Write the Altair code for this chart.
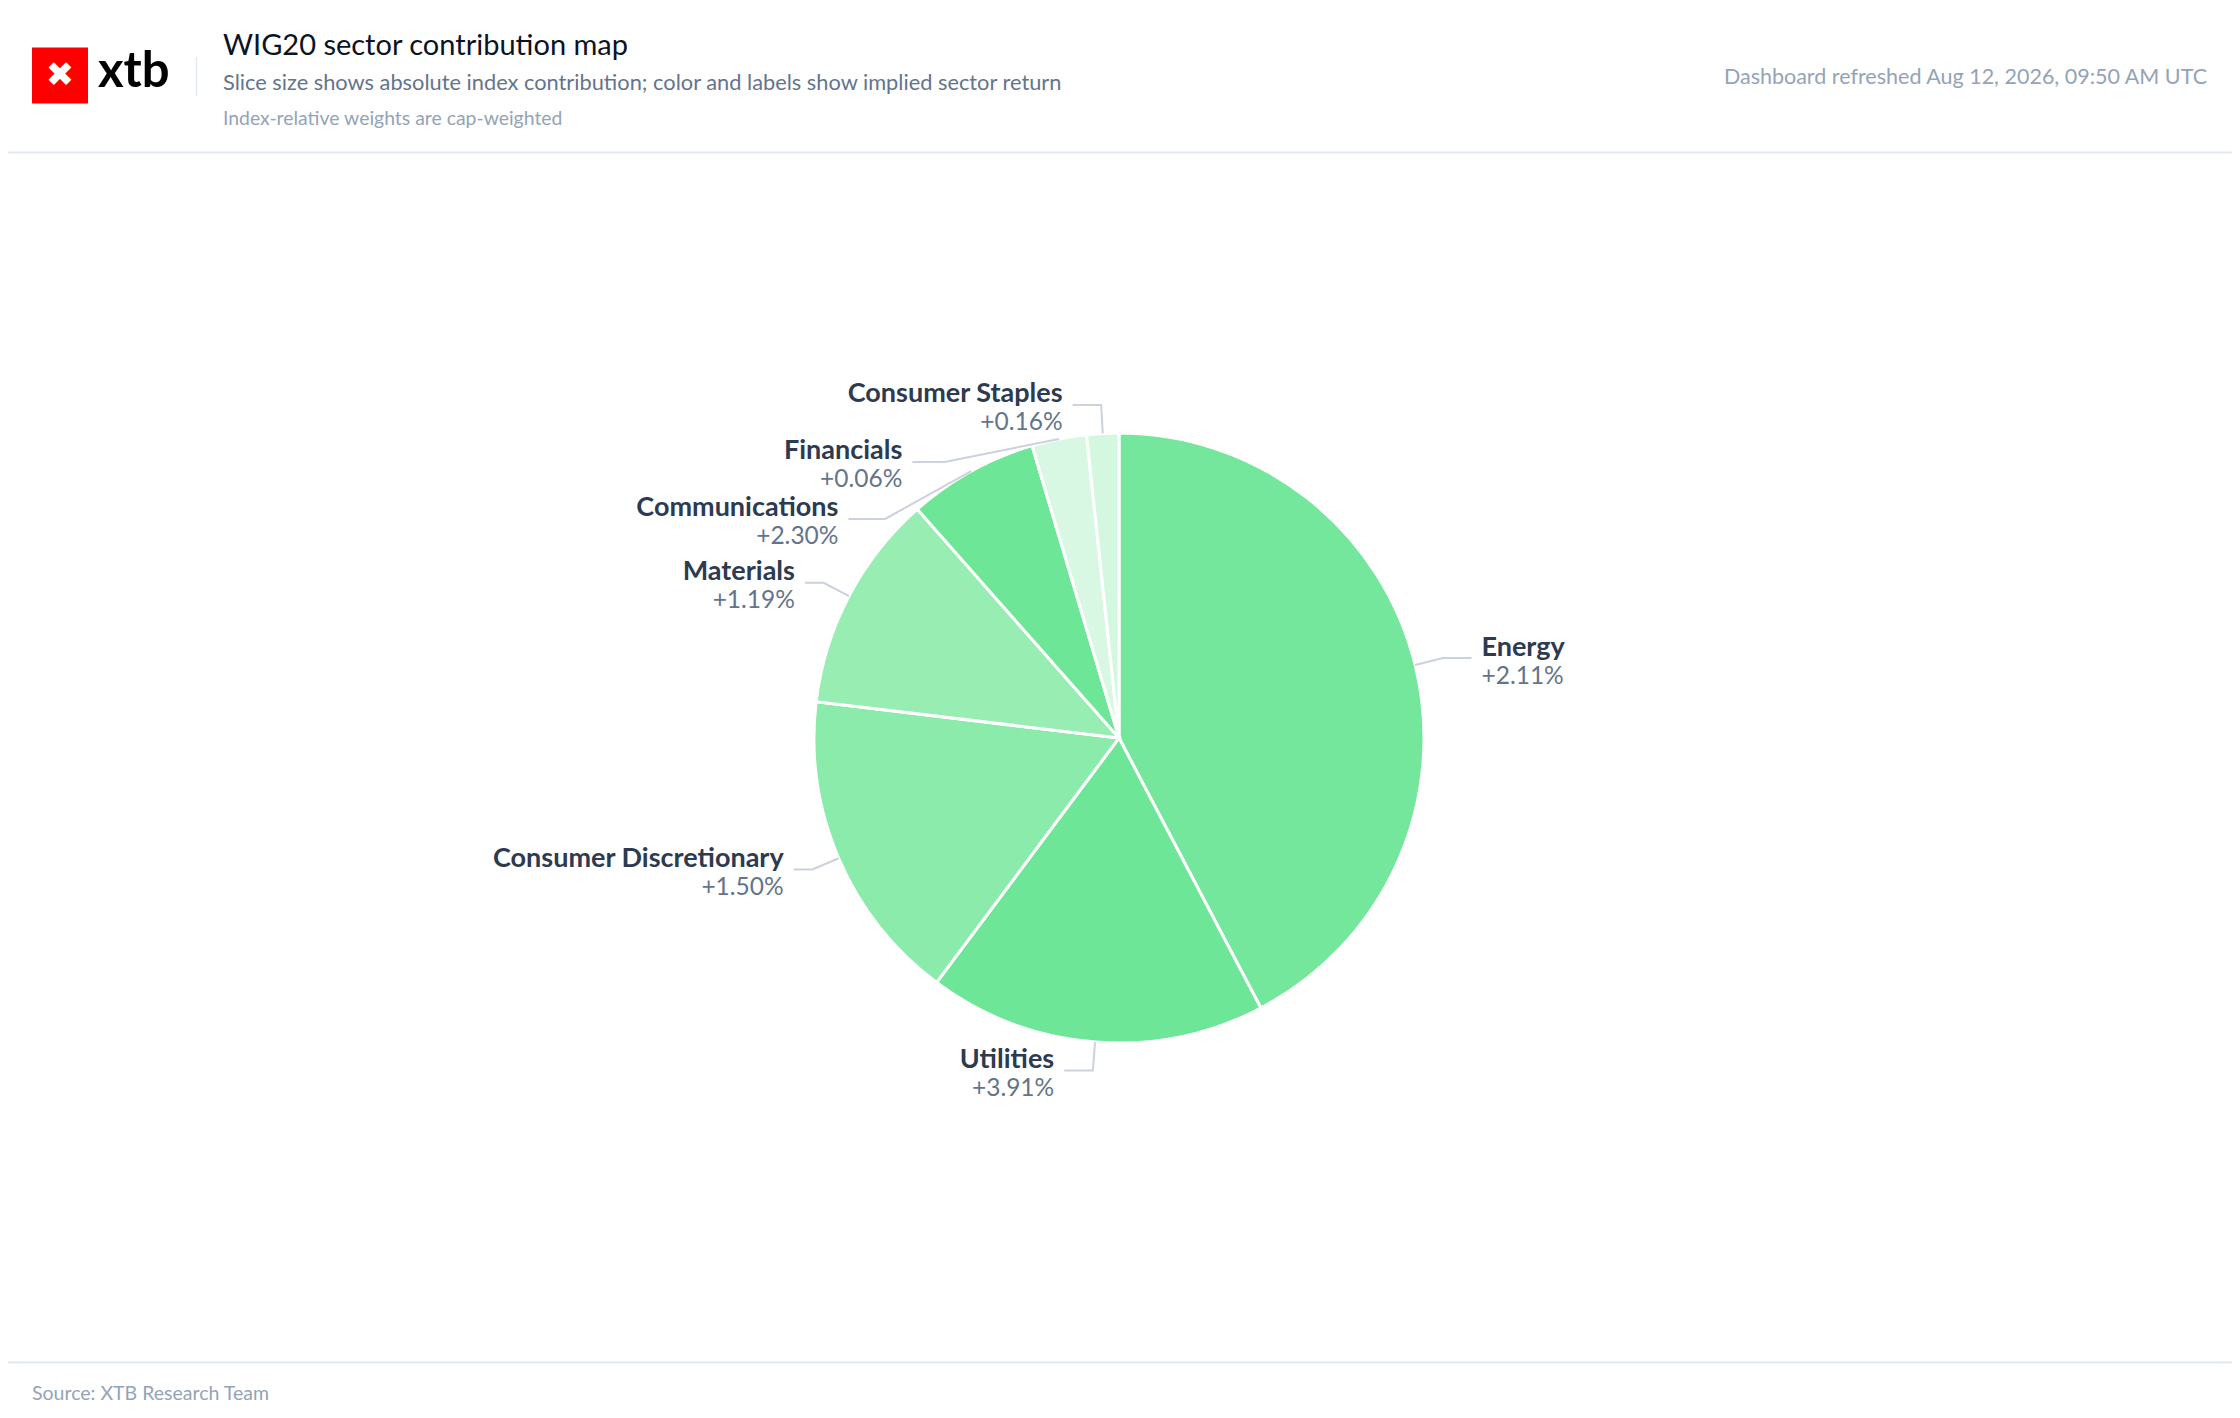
import math
import numpy as np
import pandas as pd
import altair as alt

# ---------------- data ----------------
sectors = ["Energy", "Utilities", "Consumer Discretionary", "Materials",
           "Communications", "Financials", "Consumer Staples"]
contribution_share = [42.3, 17.9, 16.7, 11.6, 6.9, 2.9, 1.7]   # share of absolute index contribution (%)
sector_return = [2.11, 3.91, 1.50, 1.19, 2.30, 0.06, 0.16]     # implied sector return (%)

title_text = "WIG20 sector contribution map"
subtitle_text = "Slice size shows absolute index contribution; color and labels show implied sector return"
note_text = "Index-relative weights are cap-weighted"
refresh_text = "Dashboard refreshed Aug 12, 2026, 09:50 AM UTC"
source_text = "Source: XTB Research Team"

# ---------------- layout constants ----------------
W, H = 2224, 1402
CX, CY, R = 1111, 730, 305
L1, L2, DIST, ROW_H = 28.6, 28.6, 10.0, 57.0
FONT = "Lato"

df = pd.DataFrame({"sector": sectors, "share": contribution_share, "ret": sector_return})
df["order"] = np.arange(len(df))
df["ret_label"] = df["ret"].map(lambda v: f"{v:+.2f}%")

# ---------- label placement (outer labels with leader lines) ----------
frac = df["share"].to_numpy() / df["share"].sum()
end = np.cumsum(frac) * 2 * math.pi
start = end - frac * 2 * math.pi
mid = (start + end) / 2

items = []
for i in range(len(df)):
    nx, ny = math.sin(mid[i]), -math.cos(mid[i])
    x0, y0 = CX + R * nx, CY + R * ny
    x1, y1 = x0 + L1 * nx, y0 + L1 * ny
    d = -1 if nx < 0 else 1
    x2 = x1 + d * L2
    items.append(dict(i=i, d=d, n=(nx, ny), p0=[x0, y0], p1x=x1,
                      lx=x2 + d * DIST, ly=y1))

rA = R + L1
for d in (-1, 1):
    side = sorted([it for it in items if it["d"] == d], key=lambda it: it["ly"])
    if len(side) < 2:
        continue
    last = -1e9
    shifted = False
    for it in side:
        top = it["ly"] - ROW_H / 2
        if top < last:
            it["ly"] += last - top
            shifted = True
        last = it["ly"] + ROW_H / 2
    if shifted:
        semis = ([it for it in side if it["ly"] <= CY], [it for it in side if it["ly"] > CY])
        for semi in semis:
            maxY, rB = 0.0, rA
            for it in semi:
                dy = abs(it["ly"] - CY)
                if dy >= maxY:
                    dx = it["lx"] - CX - L2 * d
                    rB = math.sqrt(dy * dy / (1 - dx * dx / rA / rA)) if abs(dx) < rA else rA
                    maxY = dy
            for it in semi:
                dy = abs(it["ly"] - CY)
                ddx = math.sqrt(max(0.0, 1 - dy * dy / rB / rB) * rA * rA)
                it["lx"] = CX + (ddx + L2) * d


def project(a, b, p):
    ax, ay = a; bx, by = b; px, py = p
    vx, vy = bx - ax, by - ay
    t = ((px - ax) * vx + (py - ay) * vy) / (vx * vx + vy * vy)
    qx, qy = ax + t * vx, ay + t * vy
    return [qx, qy], math.hypot(px - qx, py - qy)


def clamp_on(seg_a, seg_b, q):
    if seg_b[0] != seg_a[0]:
        t = (q[0] - seg_a[0]) / (seg_b[0] - seg_a[0])
    else:
        t = (q[1] - seg_a[1]) / (seg_b[1] - seg_a[1])
    if t < 0:
        return list(seg_a)
    if t > 1:
        return list(seg_b)
    return q


line_rows = []
for it in items:
    d = it["d"]
    p0 = it["p0"]
    p1 = [it["p1x"], it["ly"]]
    p2 = [it["lx"] - d * DIST, it["ly"]]
    # limit turn angle (90 deg)
    v1 = (p0[0] - p1[0], p0[1] - p1[1]); v2 = (p2[0] - p1[0], p2[1] - p1[1])
    n1, n2 = math.hypot(*v1), math.hypot(*v2)
    if n1 > 1e-3 and n2 > 1e-3:
        c = (v1[0] * v2[0] + v1[1] * v2[1]) / n1 / n2
        if c > 1e-9:
            q, _ = project(p1, p2, p0)
            p1 = clamp_on(p1, p2, q)
    # limit surface angle (90 deg)
    v1 = (p1[0] - p0[0], p1[1] - p0[1]); v2 = (p2[0] - p1[0], p2[1] - p1[1])
    n1, n2 = math.hypot(*v1), math.hypot(*v2)
    if n1 > 1e-3 and n2 > 1e-3:
        nx, ny = it["n"]
        c = (v1[0] * nx + v1[1] * ny) / n1
        if c < -1e-9:
            q, dist = project(p1, p2, p0)
            u = (v2[0] / n2, v2[1] / n2)
            ang2 = math.acos(max(-1, min(1, u[0] * nx + u[1] * ny)))
            new_ang = ang2
            if new_ang >= math.pi / 2:
                q = list(p2)
            else:
                s = dist / math.tan(math.pi / 2 - new_ang)
                q = [q[0] + u[0] * s, q[1] + u[1] * s]
                q = clamp_on(p1, p2, q)
            p1 = q
    for k, p in enumerate([p0, p1, p2]):
        line_rows.append({"sector": sectors[it["i"]], "k": k, "x": p[0], "y": p[1]})

lines_df = pd.DataFrame(line_rows)
lab = pd.DataFrame([{"sector": sectors[it["i"]], "ret_label": df["ret_label"][it["i"]],
                     "side": it["d"], "lx": it["lx"],
                     "ny": it["ly"] - 10.5, "vy": it["ly"] + 18.5} for it in items])

xs = alt.Scale(domain=[0, W], range=[0, W], nice=False, zero=False)
ys = alt.Scale(domain=[0, H], range=[0, H], nice=False, zero=False)

# ---------------- pie ----------------
pie = alt.Chart(df).mark_arc(outerRadius=R, stroke="white", strokeWidth=3).encode(
    theta=alt.Theta("share:Q", stack=True),
    order=alt.Order("order:Q", sort="ascending"),
    color=alt.Color("ret:Q", legend=None,
                    scale=alt.Scale(domain=[0, 1.2, 2.3],
                                    range=["#dcf9e6", "#96edb2", "#6ee698"],
                                    clamp=True, interpolate="rgb")),
    x=alt.value(CX), y=alt.value(CY),
)

leaders = alt.Chart(lines_df).mark_line(color="#cbd2dd", strokeWidth=2).encode(
    x=alt.X("x:Q", scale=xs, axis=None),
    y=alt.Y("y:Q", scale=ys, axis=None),
    detail="sector:N", order="k:Q",
)

def label_layer(side, field, y_field, bold):
    return alt.Chart(lab).transform_filter(alt.datum.side == side).mark_text(
        align="right" if side < 0 else "left", baseline="middle", font=FONT,
        fontSize=27 if bold else 24.5, fontWeight="bold" if bold else "normal",
        color="#2d3a4f" if bold else "#64748b",
    ).encode(x=alt.X("lx:Q", scale=xs, axis=None),
             y=alt.Y(f"{y_field}:Q", scale=ys, axis=None),
             text=f"{field}:N")

labels = [label_layer(s, f, yf, b) for s in (-1, 1)
          for f, yf, b in (("sector", "ny", True), ("ret_label", "vy", False))]

# ---------------- header / footer ----------------
one = pd.DataFrame({"a": [0]})

def txt(text, x, y, size, color, align="left", weight="normal", font=FONT, baseline="middle"):
    return alt.Chart(one).mark_text(text=text, align=align, baseline=baseline, font=font,
                                    fontSize=size, fontWeight=weight, color=color).encode(
        x=alt.value(x), y=alt.value(y))

logo_box = alt.Chart(one).mark_rect(color="#ff0000").encode(
    x=alt.value(24), x2=alt.value(80), y=alt.value(39.5), y2=alt.value(95.5))
logo_x = txt("✖", 52, 68, 34, "white", align="center", font="DejaVu Sans")
logo_word = txt("xtb", 90, 79, 49, "#000000", weight="bold", baseline="alphabetic")
divider = alt.Chart(one).mark_rule(color="#e2e8f0", strokeWidth=1.5).encode(
    x=alt.value(188.5), y=alt.value(49), y2=alt.value(88))
header_line = alt.Chart(one).mark_rule(color="#e2e8f0", strokeWidth=2).encode(
    x=alt.value(-8), x2=alt.value(W + 8), y=alt.value(144.5))
footer_line = alt.Chart(one).mark_rule(color="#e2e8f0", strokeWidth=2).encode(
    x=alt.value(-8), x2=alt.value(W + 8), y=alt.value(1354.5))

title = txt(title_text, 215, 37.5, 29, "#0b1324")
subtitle = txt(subtitle_text, 215, 75, 21.8, "#64748b")
note = txt(note_text, 215, 111, 19.4, "#94a3b8")
refresh = txt(refresh_text, 2199, 70, 21.5, "#94a3b8", align="right")
source = txt(source_text, 24, 1386, 19.5, "#94a3b8")

chart = alt.layer(
    pie, leaders, *labels,
    logo_box, logo_x, logo_word, divider, header_line, footer_line,
    title, subtitle, note, refresh, source,
).properties(
    width=W, height=H, autosize="none", padding=0, background="white",
).configure_view(strokeWidth=0)

chart.save("out.html", embed_options={"renderer": "svg", "actions": False})
